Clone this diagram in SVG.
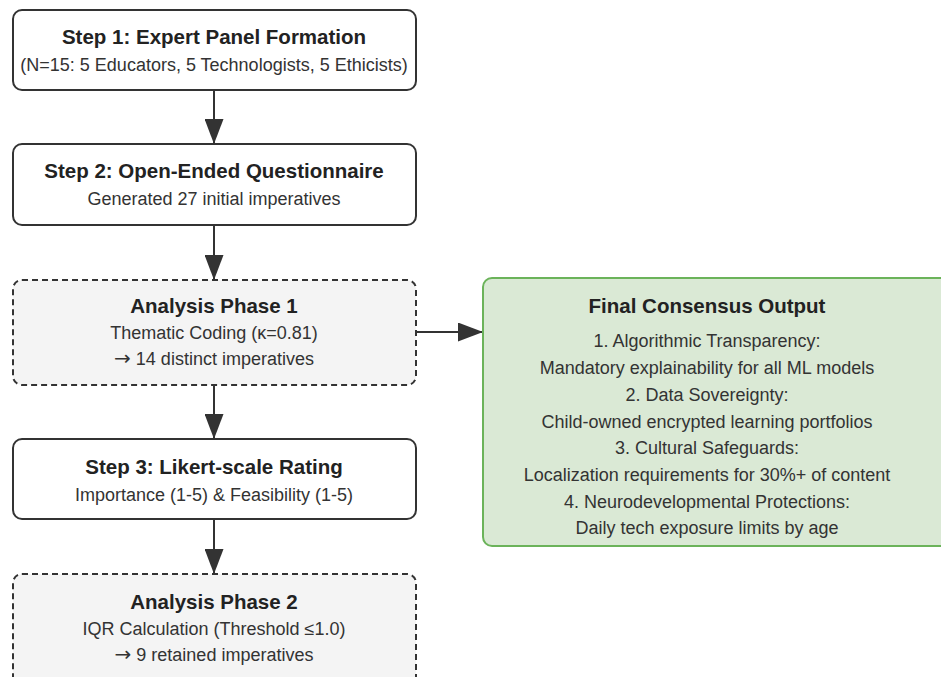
<svg xmlns="http://www.w3.org/2000/svg" width="941" height="677" viewBox="0 0 941 677">
<defs>
<style>
.box{fill:#ffffff;stroke:#333333;stroke-width:2}
.dash{fill:#f4f4f4;stroke:#333333;stroke-width:2;stroke-dasharray:6 4}
.out{fill:#dae9d5;stroke:#6bb35a;stroke-width:2}
.t{font-family:"Liberation Sans",Arial,sans-serif;font-size:20.5px;font-weight:bold;fill:#222222;text-anchor:middle}
.s{font-family:"Liberation Sans",Arial,sans-serif;font-size:18px;fill:#333333;text-anchor:middle}
.ar{font-family:"DejaVu Sans",sans-serif;font-size:20px}
.edge{stroke:#333333;stroke-width:2;fill:none}
</style>
<marker id="ah" markerWidth="25" markerHeight="19" refX="25" refY="9.5" orient="auto" markerUnits="userSpaceOnUse">
<path d="M0,0 L25,9.5 L0,19 Z" fill="#333333"/>
</marker>
</defs>
<rect width="941" height="677" fill="#ffffff"/>
<g id="connectors">
<line class="edge" x1="214" y1="90" x2="214" y2="144" marker-end="url(#ah)"/>
<line class="edge" x1="214" y1="225" x2="214" y2="280" marker-end="url(#ah)"/>
<line class="edge" x1="214" y1="385" x2="214" y2="439" marker-end="url(#ah)"/>
<line class="edge" x1="214" y1="519" x2="214" y2="574" marker-end="url(#ah)"/>
<line class="edge" x1="416" y1="332" x2="483" y2="332" marker-end="url(#ah)"/>
</g>
<g id="step1">
<rect class="box" x="13" y="10" width="403" height="80" rx="9"/>
<text class="t" x="214" y="44">Step 1: Expert Panel Formation</text>
<text class="s" x="214" y="71">(N=15: 5 Educators, 5 Technologists, 5 Ethicists)</text>
</g>
<g id="step2">
<rect class="box" x="13" y="144" width="403" height="81" rx="9"/>
<text class="t" x="214" y="178">Step 2: Open-Ended Questionnaire</text>
<text class="s" x="214" y="205">Generated 27 initial imperatives</text>
</g>
<g id="analysis1">
<rect class="dash" x="13" y="280" width="403" height="105" rx="9"/>
<text class="t" x="214" y="313">Analysis Phase 1</text>
<text class="s" x="214" y="339">Thematic Coding (κ=0.81)</text>
<text class="s" x="214" y="365"><tspan class="ar">→</tspan> 14 distinct imperatives</text>
</g>
<g id="step3">
<rect class="box" x="13" y="439" width="403" height="80" rx="9"/>
<text class="t" x="214" y="474">Step 3: Likert-scale Rating</text>
<text class="s" x="214" y="501">Importance (1-5) &amp; Feasibility (1-5)</text>
</g>
<g id="analysis2">
<rect class="dash" x="13" y="574" width="403" height="120" rx="9"/>
<text class="t" x="214" y="609">Analysis Phase 2</text>
<text class="s" x="214" y="635">IQR Calculation (Threshold ≤1.0)</text>
<text class="s" x="214" y="661"><tspan class="ar">→</tspan> 9 retained imperatives</text>
</g>
<g id="final">
<rect class="out" x="483" y="278" width="480" height="268" rx="9"/>
<text class="t" x="707" y="313">Final Consensus Output</text>
<text class="s" x="707" y="347">1. Algorithmic Transparency:</text>
<text class="s" x="707" y="374">Mandatory explainability for all ML models</text>
<text class="s" x="707" y="401">2. Data Sovereignty:</text>
<text class="s" x="707" y="428">Child-owned encrypted learning portfolios</text>
<text class="s" x="707" y="454">3. Cultural Safeguards:</text>
<text class="s" x="707" y="481">Localization requirements for 30%+ of content</text>
<text class="s" x="707" y="508">4. Neurodevelopmental Protections:</text>
<text class="s" x="707" y="534">Daily tech exposure limits by age</text>
</g>
</svg>
